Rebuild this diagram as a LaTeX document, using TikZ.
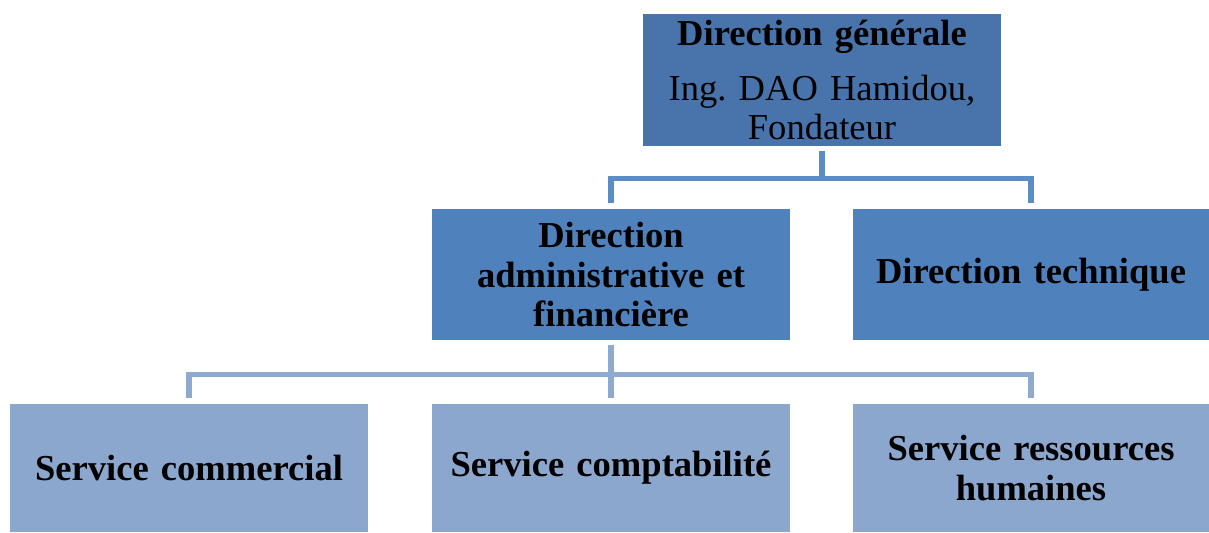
\documentclass[tikz,border=0pt]{standalone}
\usepackage{fontspec}
\setmainfont{Liberation Serif}
\usetikzlibrary{positioning}
\frenchspacing

\definecolor{bleuDG}{HTML}{4874AB}
\definecolor{bleuDir}{HTML}{4F81BD}
\definecolor{bleuSer}{HTML}{8CA7CE}
\definecolor{lienA}{HTML}{5B8CC6}
\definecolor{lienB}{HTML}{8FAAD0}

\tikzset{
  boite/.style={minimum width=8.95cm, minimum height=3.3cm, text width=8.4cm,
    align=center, inner sep=0pt, text=black,
    font=\fontsize{26}{28}\selectfont},
  lien/.style={line width=3.6pt, shorten <=0.13cm, shorten >=0.15cm}
}

\begin{document}
\begin{tikzpicture}
  \useasboundingbox (0,0) rectangle (30.225,13.3);

  % niveau 1
  \node[boite, fill=bleuDG] (dg) at (20.55,11.3)
    {\textbf{Direction générale}\\[11pt]Ing. DAO Hamidou,\\Fondateur};

  % niveau 2
  \node[boite, fill=bleuDir, minimum height=3.275cm] (daf) at (15.275,6.4375)
    {\textbf{Direction\\administrative et\\financière}};
  \node[boite, fill=bleuDir, minimum height=3.275cm, minimum width=8.9cm] (dt) at (25.775,6.4375)
    {\textbf{Direction technique}};

  % niveau 3
  \node[boite, fill=bleuSer, minimum height=3.2cm] (sc) at (4.725,1.6)
    {\textbf{Service commercial}};
  \node[boite, fill=bleuSer, minimum height=3.2cm] (scp) at (15.275,1.6)
    {\textbf{Service comptabilité}};
  \node[boite, fill=bleuSer, minimum height=3.2cm, minimum width=8.9cm] (srh) at (25.775,1.6)
    {\textbf{Service ressources\\humaines}};

  % liaisons
  \foreach \n in {daf,dt}
    \draw[lien, color=lienA] (dg.south) -- ++(0,-0.8) -| (\n.north);
  \foreach \n in {sc,scp,srh}
    \draw[lien, color=lienB] (daf.south) -- ++(0,-0.85) -| (\n.north);
\end{tikzpicture}
\end{document}
